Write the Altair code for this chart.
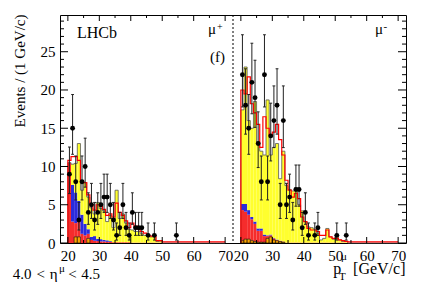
import altair as alt
import pandas as pd
import numpy as np

# ---------------- data (1 GeV/c bins, left edges 20..69) ----------------
pt_edges = list(range(20, 70))
offset_minus = 55          # mu- panel drawn shifted along the shared axis
boundary = [72.5]          # dashed separator between the two panels

counts_plus = [9, 15, 8, 3, 8, 10, 4, 5, 3, 4, 5, 6, 6, 5, 3, 1, 2, 5, 2, 1,
               4, 2, 2, 2, 0, 1, 0, 1, 0, 0, 0, 0, 0, 0, 1] + [0] * 15
counts_minus = [22, 18, 15, 21, 19, 13, 8, 22, 8, 14, 16, 18, 5, 16, 5, 6, 3, 7, 7, 2,
                4, 1, 0, 1, 2, 0, 0, 0, 0, 0, 1, 0, 0, 1] + [0] * 16

orange_plus = [0, 0, 0.8, 0.8, 0, 0, 0.6] + [0] * 43
red_plus = [10.5, 2.8, 1.8, 2.2, 1.2, 1.0, 0.6, 0.4, 0.3, 0.25, 0.2, 0.2, 0.15, 0.15, 0.1,
            0.1, 0.1, 0.1, 0.1, 0.1, 0.05, 0.05, 0.05, 0.05, 0.05, 0.05, 0.05, 0.05, 0.05, 0.05] + [0] * 20
blue_plus = [0, 4.8, 4.0, 2.5, 2.5, 1.5, 0.6, 0.4, 0.6, 0.3, 0.3, 0.2, 0.2, 0.1] + [0] * 36
yellow_plus = [0, 2.7, 3.8, 7.5, 3.2, 5.4, 4.2, 3.8, 2.9, 4.75, 4.0, 3.8, 2.45, 3.35, 1.9,
               6.8, 3.1, 3.7, 2.5, 1.7, 1.65, 1.45, 1.45, 1.15, 0.95, 0.95, 0.75, 0.75, 0.15, 0.2] + [0] * 20
line_plus = [10.8, 11.3, 11.3, 10.8, 8.0, 7.9, 6.3, 5.0, 4.3, 5.0, 4.8, 4.4, 3.6, 3.8, 3.4,
             5.2, 4.0, 3.6, 2.9, 2.0, 2.6, 2.2, 1.8, 1.5, 1.3, 1.1, 0.9, 0.9, 0.3, 0.3] + [0.15] * 20

orange_minus = [0.3, 0.5, 0.5, 0.3, 0.2, 0.1, 0.1, 0.1, 0.6, 0.8, 0.4, 0.3, 0.2, 0.1] + [0] * 36
red_minus = [4.0, 3.6, 3.2, 2.8, 2.3, 1.5, 1.5, 0.8, 0.3, 0.2, 0.2, 0.1, 0.1, 0.1] + [0.05] * 20 + [0] * 16
blue_minus = [0.8, 1.0, 0.6, 0.3, 0.3, 0.3, 0.3, 0.2, 0.1, 0.1, 0.05, 0.05] + [0] * 38
yellow_minus = [12.3, 17.9, 11.7, 11.6, 15.7, 11.3, 10.1, 10.4, 17.7, 10.4, 11.85, 12.55, 8.1, 11.8,
                7.45, 6.95, 6.75, 7.15, 4.95, 4.15, 2.75, 2.05, 1.95, 1.75, 1.25, 0.35, 0.55, 1.85,
                0.75, 0.45, 0.85, 0.35, 0.15, 0.15] + [0] * 16
line_minus = [20.0, 19.5, 21.7, 18.2, 17.0, 15.5, 12.5, 16.5, 15.0, 14.0, 14.5, 15.5, 13.5, 11.5,
              8.2, 6.9, 6.0, 6.5, 5.8, 3.4, 2.8, 1.9, 1.7, 1.7, 1.5, 1.0, 1.0, 1.7, 0.8, 0.6,
              0.6, 0.4, 0.3, 0.2] + [0.15] * 16

x_major = [20, 30, 40, 50, 60, 70]
x_minor = [25, 35, 45, 55, 65]
y_major = [0, 5, 10, 15, 20, 25]
y_minor = [v for v in range(1, 30) if v % 5 != 0]

# ---------------- tables ----------------
comp_order = ["orange", "red", "blue", "yellow"]
panels = [
    ("plus", 0, counts_plus, {"orange": orange_plus, "red": red_plus, "blue": blue_plus, "yellow": yellow_plus}, line_plus),
    ("minus", offset_minus, counts_minus, {"orange": orange_minus, "red": red_minus, "blue": blue_minus, "yellow": yellow_minus}, line_minus),
]

bar_rows, top_rows, line_rows, pt_rows = [], [], [], []
for name, off, counts, comps, line in panels:
    tops = []
    for k, e in enumerate(pt_edges):
        cum = 0.0
        for c in comp_order:
            v = comps[c][k]
            if v > 0:
                bar_rows.append({"u0": e + off, "u1": e + 1 + off, "y0": cum, "y1": cum + v, "comp": c})
            cum += v
        tops.append(cum)
    for vals, rows in ((tops, top_rows), (line, line_rows)):
        rows.append({"u": pt_edges[0] + off, "v": 0.0, "series": name, "i": 0})
        for k, e in enumerate(pt_edges):
            rows.append({"u": e + off, "v": vals[k], "series": name, "i": k + 1})
        rows.append({"u": pt_edges[-1] + 1 + off, "v": vals[-1], "series": name, "i": len(vals) + 1})
    for k, e in enumerate(pt_edges):
        n = counts[k]
        if n > 0:
            s = np.sqrt(n + 0.25)
            pt_rows.append({"uc": e + 0.5 + off, "ua": e + 0.5 + off - 0.45, "ub": e + 0.5 + off + 0.45,
                            "n": n, "lo": n - s + 0.5, "hi": n + s + 0.5})

bars = pd.DataFrame(bar_rows)
tops_df = pd.DataFrame(top_rows)
line_df = pd.DataFrame(line_rows)
pts = pd.DataFrame(pt_rows)

xt_major = pd.DataFrame({"u": x_major + [t + offset_minus for t in x_major]})
xt_minor = pd.DataFrame({"u": x_minor + [t + offset_minus for t in x_minor]})
yt_major = pd.DataFrame({"v": y_major})
yt_minor = pd.DataFrame({"v": y_minor})

# ---------------- scales / axes ----------------
W, H = 346, 228
FONT = "Liberation Serif"
xscale = alt.Scale(domain=[17.5, 127.5], nice=False, zero=False)
yscale = alt.Scale(domain=[0, 29.8], nice=False, zero=False)
xaxis = alt.Axis(values=[t for t in x_major] + [t + offset_minus for t in x_major],
                 labelExpr="datum.value > 72.5 ? '' + (datum.value - 55) : '' + datum.value",
                 ticks=False, tickSize=0, domain=False, grid=False, labelFont=FONT, labelFontSize=15,
                 labelColor="black", labelPadding=5, labelOverlap=False, labelFlush=False,
                 labelBaseline="top", title=None)
yaxis = alt.Axis(values=y_major, ticks=False, tickSize=0, domain=False, grid=False, labelFont=FONT,
                 labelFontSize=15, labelColor="black", labelPadding=5,
                 title="Events / (1 GeV/c)", titleFont=FONT, titleFontSize=15, titleFontWeight="normal",
                 titleColor="black", titleAngle=270, titleAlign="right", titleBaseline="alphabetic",
                 titleX=-36, titleY=-1)


def X(f):
    return alt.X(f, type="quantitative", scale=xscale, axis=xaxis)


def Y(f):
    return alt.Y(f, type="quantitative", scale=yscale, axis=yaxis)


colors = alt.Scale(domain=comp_order, range=["#ffa500", "#f52c2c", "#2b2bdc", "#ffff2e"])

hist = alt.Chart(bars).transform_filter("datum.comp != 'orange'").mark_bar().encode(
    x=X("u0"), x2="u1", y=Y("y0"), y2="y1", color=alt.Color("comp:N", scale=colors, legend=None))
orange = alt.Chart(bars).transform_filter("datum.comp == 'orange'").mark_bar(
    color="#ffa500", stroke="black", strokeWidth=0.6).encode(x=X("u0"), x2="u1", y=Y("y0"), y2="y1")
top_line = alt.Chart(tops_df).mark_line(interpolate="step-after", color="#555555", strokeWidth=0.8).encode(
    x=X("u"), y=Y("v"), detail="series:N", order="i:Q")
red_line = alt.Chart(line_df).mark_line(interpolate="step-after", color="#ff0000", strokeWidth=1.2).encode(
    x=X("u"), y=Y("v"), detail="series:N", order="i:Q")
sep = alt.Chart(pd.DataFrame({"u": boundary})).mark_rule(color="black", strokeDash=[2, 2], strokeWidth=1).encode(
    x=X("u"), y=alt.value(0), y2=alt.value(H))
err = alt.Chart(pts).mark_rule(color="#222222", strokeWidth=1).encode(x=X("uc"), y=Y("lo"), y2="hi")
cap_hi = alt.Chart(pts).mark_rule(color="#222222", strokeWidth=1).encode(x=X("ua"), x2="ub", y=Y("hi"))
cap_lo = alt.Chart(pts).mark_rule(color="#222222", strokeWidth=1).encode(x=X("ua"), x2="ub", y=Y("lo"))
dots = alt.Chart(pts).mark_circle(color="black", size=24, opacity=1).encode(x=X("uc"), y=Y("n"))


def xticks(df, ln):
    b = alt.Chart(df).mark_rule(color="black", strokeWidth=1).encode(x=X("u"), y=alt.value(H), y2=alt.value(H - ln))
    t = alt.Chart(df).mark_rule(color="black", strokeWidth=1).encode(x=X("u"), y=alt.value(0), y2=alt.value(ln))
    return [b, t]


def yticks(df, ln):
    l = alt.Chart(df).mark_rule(color="black", strokeWidth=1).encode(y=Y("v"), x=alt.value(0), x2=alt.value(ln))
    r = alt.Chart(df).mark_rule(color="black", strokeWidth=1).encode(y=Y("v"), x=alt.value(W), x2=alt.value(W - ln))
    return [l, r]


def txt(s, x, y, size=15, align="left"):
    return alt.Chart(alt.Data(values=[{}])).mark_text(
        text=s, font=FONT, fontSize=size, align=align, baseline="alphabetic", color="black"
    ).encode(x=alt.value(x), y=alt.value(y))


texts = [
    txt("LHCb", 17, 23, 16),
    txt("μ", 148, 19, 15), txt("+", 157, 14.5, 10),
    txt("(f)", 165, 47, 15, "right"),
    txt("μ", 315, 19, 15), txt("-", 323.5, 15, 11),
    txt("p", 273.3, 258.5, 16), txt("μ", 281, 245, 11), txt("T", 279, 264.5, 11),
    txt("[GeV/c]", 345.5, 259, 16, "right"),
    txt("4.0", -47.3, 264.3, 15), txt("<", -19.2, 264.3, 15, "center"),
    txt("η", -6.3, 264.3, 15, "center"), txt("μ", -1, 257, 11),
    txt("<", 12.5, 264.3, 15, "center"), txt("4.5", 40, 264.3, 15, "right"),
]

layers = [hist, orange, top_line, red_line, sep, err, cap_hi, cap_lo, dots]
layers += xticks(xt_major, 6) + xticks(xt_minor, 3) + yticks(yt_major, 8) + yticks(yt_minor, 4)
layers += texts

chart = alt.layer(*layers).properties(
    width=W, height=H,
    autosize=alt.AutoSizeParams(type="none"),
    padding={"left": 52, "top": 7, "right": 13, "bottom": 39},
).configure_view(stroke="black", strokeWidth=1)

chart.save("out.html", embed_options={"renderer": "svg", "actions": False})
